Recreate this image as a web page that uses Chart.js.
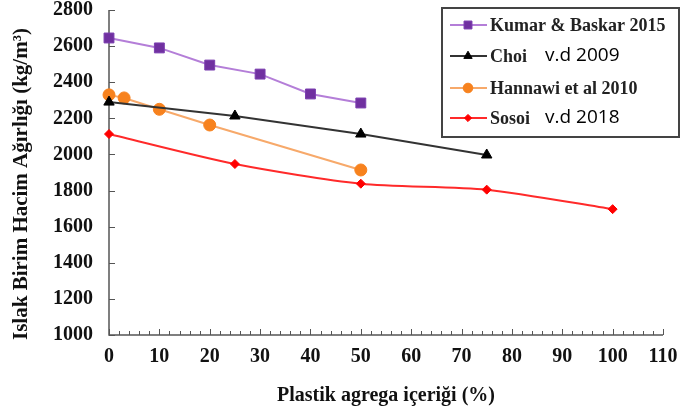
<!DOCTYPE html>
<html>
<head>
<meta charset="utf-8">
<script src="https://cdn.jsdelivr.net/npm/chart.js@4/dist/chart.umd.min.js"></script>
<style>
  html, body { margin: 0; padding: 0; background: #fff; }
  #wrap { position: relative; width: 682px; height: 412px; }
</style>
</head>
<body>
<div id="wrap"><canvas id="c" width="682" height="412"></canvas></div>
<script>
// Plastic aggregate content (%) and wet unit weight (kg/m3) per study
const kumarX = [0, 10, 20, 30, 40, 50];
const kumarY = [2645, 2590, 2495, 2445, 2335, 2285];
const choiX = [0, 25, 50, 75];
const choiY = [2290, 2213, 2113, 1997];
const hannawiX = [0, 3, 10, 20, 50];
const hannawiY = [2330, 2313, 2250, 2163, 1914];
const sosoiX = [0, 25, 50, 75, 100];
const sosoiY = [2113, 1947, 1838, 1805, 1697];

const xTicks = [0, 10, 20, 30, 40, 50, 60, 70, 80, 90, 100, 110];
const yTicks = [1000, 1200, 1400, 1600, 1800, 2000, 2200, 2400, 2600, 2800];

const legendNames = [
  ['Kumar & Baskar 2015', ''],
  ['Choi', 'v.d 2009'],
  ['Hannawi et al 2010', ''],
  ['Sosoi', 'v.d 2018']
];
const yTitle = 'Islak Birim Hacim Ağırlığı (kg/m³)';
const xTitle = 'Plastik agrega içeriği (%)';

const pts = (xs, ys) => xs.map((x, i) => ({ x, y: ys[i] }));
const serif = '"Liberation Serif", "Times New Roman", serif';

// Axis lines with inward-pointing tick marks, plus the vertical axis title
const innerTicks = {
  id: 'innerTicks',
  beforeDatasetsDraw(chart) {
    const { ctx, chartArea: a, scales: { x, y } } = chart;
    ctx.save();
    ctx.strokeStyle = '#555';
    ctx.lineWidth = 1.5;
    ctx.beginPath();
    ctx.moveTo(a.left, a.top);
    ctx.lineTo(a.left, a.bottom);
    ctx.lineTo(a.right, a.bottom);
    ctx.stroke();
    ctx.lineWidth = 1;
    for (let v = 0; v <= 110; v += 2) {
      const px = Math.round(x.getPixelForValue(v)) + 0.5;
      const len = v % 10 === 0 ? 6 : 4;
      ctx.beginPath();
      ctx.moveTo(px, a.bottom);
      ctx.lineTo(px, a.bottom - len);
      ctx.stroke();
    }
    yTicks.forEach(v => {
      const py = Math.round(y.getPixelForValue(v)) + 0.5;
      ctx.beginPath();
      ctx.moveTo(a.left, py);
      ctx.lineTo(a.left + 6, py);
      ctx.stroke();
    });
    ctx.translate(22, 184);
    ctx.rotate(-Math.PI / 2);
    ctx.fillStyle = '#111';
    ctx.font = 'bold 21px ' + serif;
    ctx.textAlign = 'center';
    ctx.textBaseline = 'middle';
    ctx.fillText(yTitle, 0, 0);
    ctx.restore();
  }
};

// Framed legend in the upper right corner
const boxLegend = {
  id: 'boxLegend',
  afterDraw(chart) {
    const ctx = chart.ctx;
    const bx = 442, by = 8, bw = 237, bh = 129;
    ctx.save();
    ctx.fillStyle = '#fff';
    ctx.fillRect(bx, by, bw, bh);
    ctx.strokeStyle = '#444';
    ctx.lineWidth = 2;
    ctx.strokeRect(bx, by, bw, bh);
    const rows = [25, 56, 88, 118];
    chart.data.datasets.forEach((ds, i) => {
      const yy = rows[i];
      ctx.strokeStyle = ds.borderColor;
      ctx.lineWidth = 2;
      ctx.beginPath();
      ctx.moveTo(450, yy);
      ctx.lineTo(487, yy);
      ctx.stroke();
      ctx.fillStyle = ds.pointBackgroundColor;
      ctx.strokeStyle = ds.pointBorderColor;
      ctx.lineWidth = 1;
      Chart.helpers.drawPoint(ctx, {
        pointStyle: ds.pointStyle,
        radius: ds.pointRadius * 0.8,
        borderWidth: 1
      }, 468, yy);
      const [a, b] = legendNames[i];
      ctx.fillStyle = '#222';
      ctx.textBaseline = 'middle';
      ctx.textAlign = 'left';
      ctx.font = 'bold 18px ' + serif;
      ctx.fillText(a, 490, yy + 1);
      if (b) {
        ctx.fillStyle = '#000';
        ctx.font = '19px "Open Sans", "Liberation Sans", sans-serif';
        ctx.fillText(b, 545, yy);
      }
    });
    ctx.restore();
  }
};

new Chart(document.getElementById('c'), {
  type: 'line',
  data: {
    datasets: [
      {
        label: 'Kumar & Baskar 2015',
        data: pts(kumarX, kumarY),
        borderColor: '#B47ED8',
        borderWidth: 2,
        pointStyle: 'rect',
        pointRadius: 7,
        pointBackgroundColor: '#7030A0',
        pointBorderColor: '#7B3FB0',
        pointBorderWidth: 1,
        clip: false
      },
      {
        label: 'Choi v.d 2009',
        data: pts(choiX, choiY),
        borderColor: '#333333',
        borderWidth: 2,
        pointStyle: 'triangle',
        pointRadius: 6,
        pointBackgroundColor: '#000',
        pointBorderColor: '#000',
        pointBorderWidth: 1,
        clip: false
      },
      {
        label: 'Hannawi et al 2010',
        data: pts(hannawiX, hannawiY),
        borderColor: '#F7A96A',
        borderWidth: 2,
        pointStyle: 'circle',
        pointRadius: 6,
        pointBackgroundColor: '#F7821E',
        pointBorderColor: '#F7821E',
        pointBorderWidth: 1,
        clip: false
      },
      {
        label: 'Sosoi v.d 2018',
        data: pts(sosoiX, sosoiY),
        borderColor: '#FF2A2A',
        borderWidth: 2,
        tension: 0.25,
        pointStyle: 'rectRot',
        pointRadius: 4.5,
        pointBackgroundColor: '#F00',
        pointBorderColor: '#F00',
        pointBorderWidth: 1,
        clip: false
      }
    ]
  },
  options: {
    responsive: false,
    animation: false,
    layout: { padding: { top: 10, right: 19, left: 0, bottom: 0 } },
    plugins: { legend: { display: false }, tooltip: { enabled: false } },
    scales: {
      x: {
        type: 'linear',
        min: 0, max: 110,
        afterBuildTicks: s => { s.ticks = xTicks.map(v => ({ value: v })); },
        afterFit: s => { s.height = 77; s.paddingRight = 0; s.paddingLeft = 0; },
        grid: { display: false, drawTicks: false },
        border: { display: false },
        ticks: {
          padding: 10,
          color: '#111',
          font: { family: serif, size: 20, weight: 'bold' },
          maxRotation: 0,
          callback: v => String(v)
        },
        title: {
          display: true,
          text: xTitle,
          color: '#111',
          font: { family: serif, size: 20, weight: 'bold' },
          padding: { top: 10 }
        }
      },
      y: {
        min: 1000, max: 2800,
        afterBuildTicks: s => { s.ticks = yTicks.map(v => ({ value: v })); },
        afterFit: s => { s.width = 109; s.paddingTop = 0; s.paddingBottom = 0; },
        grid: { display: false, drawTicks: false },
        border: { display: false },
        ticks: {
          padding: 16,
          color: '#111',
          font: { family: serif, size: 20, weight: 'bold' },
          callback: v => String(v)
        },
        title: { display: false }
      }
    }
  },
  plugins: [innerTicks, boxLegend]
});
</script>
</body>
</html>
